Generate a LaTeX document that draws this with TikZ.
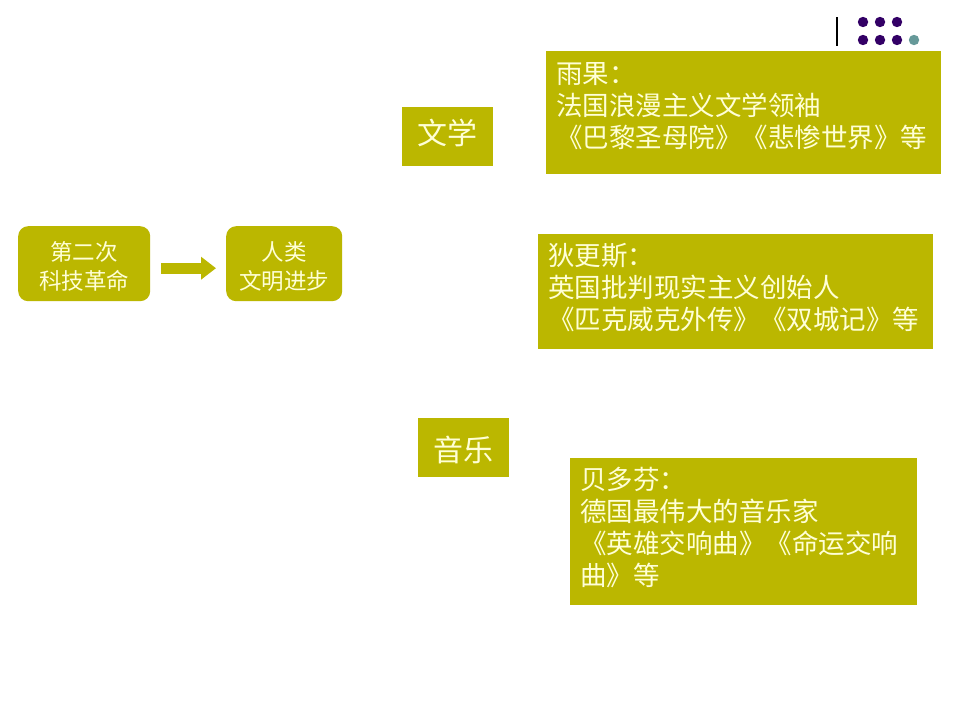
\documentclass[tikz,border=0pt]{standalone}
\usepackage{fontspec}
\setmainfont{Noto Sans CJK SC}
\usetikzlibrary{arrows.meta}
\definecolor{olive}{RGB}{187,183,0}
\definecolor{cream}{RGB}{255,255,214}
\definecolor{dotpurple}{RGB}{51,0,102}
\definecolor{dotteal}{RGB}{102,153,153}
\tikzset{
  box/.style={fill=olive, draw=none, inner sep=0pt, anchor=north west},
  rbox/.style={box, rounded corners=10pt},
  bigtxt/.style={text=cream, inner sep=0pt, anchor=north west, align=left,
    font=\fontsize{26.5pt}{32pt}\selectfont},
  midtxt/.style={text=cream, inner sep=0pt, font=\fontsize{30pt}{36pt}\selectfont},
  smalltxt/.style={text=cream, inner sep=0pt, align=center,
    font=\fontsize{22.5pt}{29pt}\selectfont},
  blockarrow/.style={olive, line width=11pt, -{Triangle[length=15pt,width=22pt]}}
}
\begin{document}
\begin{tikzpicture}[x=1pt,y=-1pt]
\useasboundingbox (0,0) rectangle (960,720);
\fill[white] (0,0) rectangle (960,720);
% decoration top right
\draw[black, line width=1.2pt] (837,17) -- (837,46);
\foreach \x in {863,880,897} {\fill[dotpurple] (\x,22) circle (5.2);}
\foreach \x in {863,880,897} {\fill[dotpurple] (\x,40) circle (5.2);}
\fill[dotteal] (914,40) circle (5.2);
% left chain
\node[rbox, minimum width=132pt, minimum height=75pt] (rev) at (18,226) {};
\node[smalltxt] (revt) at ([yshift=-3pt]rev.center) {第二次\\科技革命};
\node[rbox, minimum width=116pt, minimum height=75pt] (prog) at (226,226) {};
\node[smalltxt] (progt) at ([yshift=-3pt]prog.center) {人类\\文明进步};
\draw[blockarrow] ([xshift=11pt,yshift=-4.5pt]rev.east) -- ([xshift=-10pt,yshift=-4.5pt]prog.west);
% categories
\node[box, minimum width=91pt, minimum height=59pt] (lit) at (402,107) {};
\node[midtxt] (litt) at ([yshift=4pt]lit.center) {文学};
\node[box, minimum width=91pt, minimum height=59pt] (mus) at (418,418) {};
\node[midtxt] (must) at ([yshift=-2pt]mus.center) {音乐};
% detail boxes
\node[box, minimum width=395pt, minimum height=123pt] (hugo) at (546,51) {};
\node[bigtxt] (hugot) at (556,62.5) {雨果：\\法国浪漫主义文学领袖\\《巴黎圣母院》《悲惨世界》等};
\node[box, minimum width=395pt, minimum height=115pt] (dick) at (538,234) {};
\node[bigtxt] (dickt) at (548,243) {狄更斯：\\英国批判现实主义创始人\\《匹克威克外传》《双城记》等};
\node[box, minimum width=347pt, minimum height=147pt] (beet) at (570,458) {};
\node[bigtxt] (beett) at (580,467) {贝多芬：\\德国最伟大的音乐家\\《英雄交响曲》《命运交响\\曲》等};
\end{tikzpicture}
\end{document}
